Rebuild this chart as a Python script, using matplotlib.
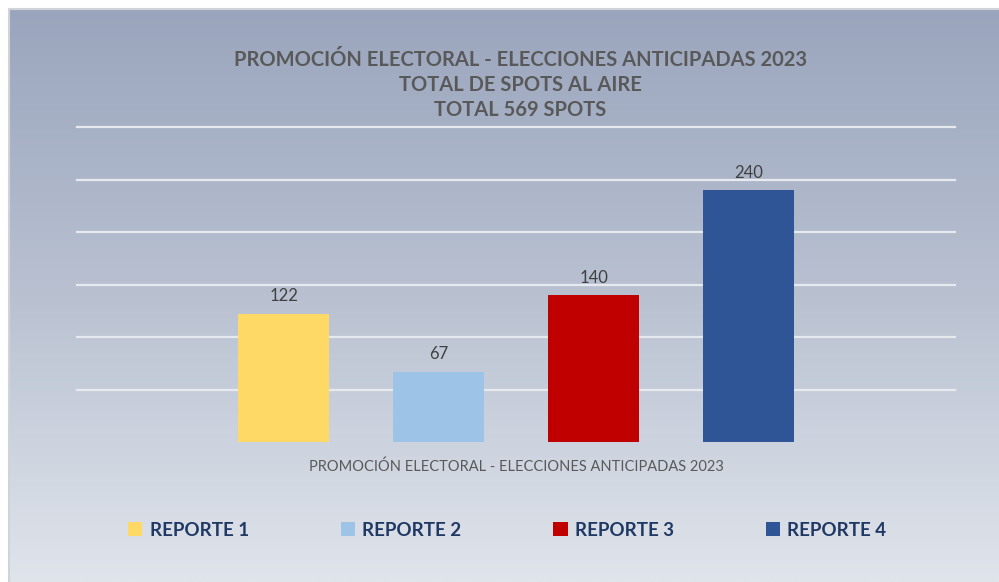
import numpy as np
import matplotlib.pyplot as plt
from matplotlib.colors import LinearSegmentedColormap

plt.rcParams['font.family'] = ['Lato', 'DejaVu Sans']

# datos
reportes = ["REPORTE 1", "REPORTE 2", "REPORTE 3", "REPORTE 4"]
spots = [122, 67, 140, 240]
colores = ["#FFD966", "#9DC3E6", "#C00000", "#2F5597"]
titulo = "PROMOCIÓN ELECTORAL - ELECCIONES ANTICIPADAS 2023\nTOTAL DE SPOTS AL AIRE\nTOTAL 569 SPOTS"
categoria = "PROMOCIÓN ELECTORAL - ELECCIONES ANTICIPADAS 2023"

W, H = 999, 582
fig = plt.figure(figsize=(W / 100, H / 100), dpi=100)
fig.patch.set_facecolor("white")

# fondo con degradado
bg = fig.add_axes([9 / W, 0, 1 - 9 / W, 1 - 9 / H])
cmap = LinearSegmentedColormap.from_list("fondo", ["#9AA5BD", "#B9C1D1", "#E0E4EB"])
grad = np.linspace(0, 1, 256).reshape(-1, 1)
bg.imshow(grad, aspect="auto", cmap=cmap, extent=[0, 1, 0, 1], origin="upper")
bg.set_xlim(0, 1)
bg.set_ylim(0, 1)
for s in bg.spines.values():
    s.set_visible(False)
bg.plot([0, 0, 1], [0, 1, 1], color="#D0D3D8", lw=1.5, clip_on=False)
bg.set_xticks([])
bg.set_yticks([])

# grafico de barras
ax = fig.add_axes([77 / W, 1 - 442 / H, (955 - 77) / W, (442 - 127) / H])
ax.patch.set_alpha(0)
x = np.arange(len(spots))
barras = ax.bar(x, spots, width=0.587, color=colores, zorder=3)
ax.set_xlim(-1.335, 4.33)
ax.set_ylim(0, 300)
for yv in range(50, 301, 50):
    ax.axhline(yv, color="#E6E9EE", lw=1.6, zorder=0, clip_on=False)
for s in ax.spines.values():
    s.set_visible(False)
ax.set_xticks([])
ax.set_yticks([])

for xi, v in zip(x, spots):
    ax.text(xi, v + 9, str(v), ha="center", va="bottom", fontsize=12, color="#404040")

ax.text(0.5, -0.055, categoria, transform=ax.transAxes, ha="center", va="top",
        fontsize=10.5, color="#595959")

fig.text(0.521, 1 - 85 / H, titulo, ha="center", va="center", fontsize=14.5,
         fontweight="bold", color="#595959", linespacing=1.3)

leg = fig.legend(barras, reportes, loc="center", bbox_to_anchor=(0.508, 1 - 530 / H),
                 ncol=4, frameon=False, handlelength=0.75, handleheight=0.75,
                 handletextpad=0.4, columnspacing=4.9,
                 prop={"size": 13.5, "weight": "bold"})
for t in leg.get_texts():
    t.set_color("#1F3864")

fig.savefig("out.png", dpi=100)
